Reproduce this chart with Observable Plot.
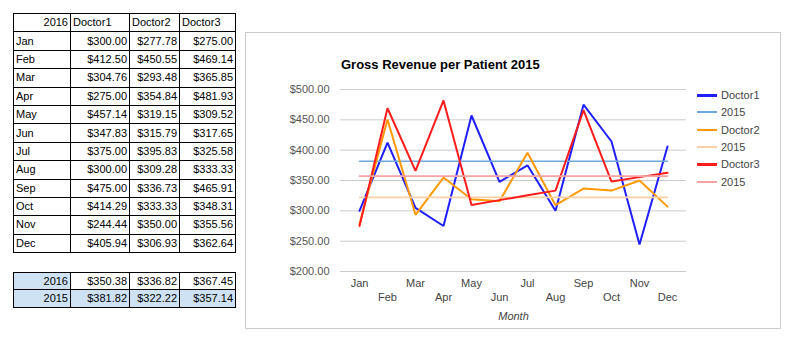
<!DOCTYPE html>
<html><head><meta charset="utf-8">
<script src="https://cdn.jsdelivr.net/npm/d3@7"></script>
<script src="https://cdn.jsdelivr.net/npm/@observablehq/plot@0.6"></script>
<style>
body{margin:0;background:#fff;font-family:"Liberation Sans",Arial,sans-serif;}
#page{position:relative;width:789px;height:339px;overflow:hidden;}
table{border-collapse:collapse;position:absolute;left:13px;font-size:11px;color:#000;table-layout:fixed;}
td{border:1px solid #000;padding:0 2px;line-height:1;white-space:nowrap;overflow:hidden;}
td.n{text-align:right;}
td.l{text-align:left;}
td.b{background:#cfe2f3;}
#main{top:13px;}
#main tr{height:18.4px;}
#summ{top:272px;}
#summ tr{height:17.4px;}
#box{position:absolute;left:245px;top:32px;width:534px;height:295px;border:1px solid #ccc;}
#title{position:absolute;left:95px;top:24px;font-weight:bold;font-size:13px;color:#000;}
#plot{position:absolute;left:0;top:0;}
#legend{position:absolute;left:451px;top:0;font-size:11px;color:#444;}
.li{position:absolute;left:0;height:14px;width:80px;}
.li span.sw{position:absolute;left:0;top:6px;width:20px;}
.li span.tx{position:absolute;left:24px;top:0;line-height:14px;}
</style>
</head><body>
<div id="page">
<table id="main"><colgroup><col style="width:57px"><col style="width:59px"><col style="width:50px"><col style="width:56px"></colgroup><tbody></tbody></table>
<table id="summ"><colgroup><col style="width:57px"><col style="width:59px"><col style="width:50px"><col style="width:56px"></colgroup><tbody></tbody></table>
<div id="box"><div id="plot"></div><div id="title"></div><div id="legend"></div></div>
</div>
<script>
const yearLabel = "2016";
const months = ["Jan","Feb","Mar","Apr","May","Jun","Jul","Aug","Sep","Oct","Nov","Dec"];
const doctors = ["Doctor1","Doctor2","Doctor3"];
const doctor1 = [300.00,412.50,304.76,275.00,457.14,347.83,375.00,300.00,475.00,414.29,244.44,405.94];
const doctor2 = [277.78,450.55,293.48,354.84,319.15,315.79,395.83,309.28,336.73,333.33,350.00,306.93];
const doctor3 = [275.00,469.14,365.85,481.93,309.52,317.65,325.58,333.33,465.91,348.31,355.56,362.64];
const avg2016 = [350.38,336.82,367.45];
const avg2015 = [381.82,322.22,357.14];
const summaryLabels = ["2016","2015"];
const yTicks = [200,250,300,350,400,450,500];
const chartTitle = "Gross Revenue per Patient 2015";
const xLabel = "Month";
const avgLabel = "2015";

const lineColors = ["#1f1fff","#ff9900","#ff1c1c"];
const avgColors = ["#6fa8dc","#fbd0a6","#f4a3a3"];
const series = [doctor1, doctor2, doctor3];
const money = v => "$" + v.toFixed(2);

// tables
const mainBody = document.querySelector("#main tbody");
let hdr = `<tr><td class="n">${yearLabel}</td>` + doctors.map(d => `<td class="l">${d}</td>`).join("") + "</tr>";
mainBody.innerHTML = hdr + months.map((m,i) =>
  `<tr><td class="l">${m}</td>` + series.map(s => `<td class="n">${money(s[i])}</td>`).join("") + "</tr>").join("");
const summBody = document.querySelector("#summ tbody");
summBody.innerHTML =
  `<tr><td class="n b">${summaryLabels[0]}</td>` + avg2016.map(v => `<td class="n">${money(v)}</td>`).join("") + "</tr>" +
  `<tr><td class="n b">${summaryLabels[1]}</td>` + avg2015.map(v => `<td class="n b">${money(v)}</td>`).join("") + "</tr>";

// chart
document.getElementById("title").textContent = chartTitle;
const marks = [
  Plot.gridY(yTicks, {stroke:"#cccccc", strokeOpacity:1}),
  Plot.axisY(yTicks, {tickSize:0, tickPadding:11, tickFormat: money, label:null, fill:"#555"}),
  Plot.axisX(months.filter((d,i)=>i%2===0), {tickSize:0, tickPadding:8, label:null, fill:"#444"}),
  Plot.axisX(months.filter((d,i)=>i%2===1), {tickSize:0, tickPadding:22, label:null, fill:"#444"}),
  Plot.text([xLabel], {text: d => d, frameAnchor:"bottom", dy:45, fontStyle:"italic", fill:"#444", lineAnchor:"middle"})
];
series.forEach((s, k) => {
  const rows = months.map((m,i) => ({month:m, value:s[i]}));
  marks.push(Plot.line(rows, {x:"month", y:"value", stroke:lineColors[k], strokeWidth:2, strokeLinejoin:"miter"}));
  const avgRows = [{month:months[0], value:avg2015[k]},{month:months[months.length-1], value:avg2015[k]}];
  marks.push(Plot.line(avgRows, {x:"month", y:"value", stroke:avgColors[k], strokeWidth:1.6}));
});
const chart = Plot.plot({
  width:534, height:295,
  marginLeft:94, marginRight:94, marginTop:56, marginBottom:57,
  style:{fontSize:"11px", fontFamily:"'Liberation Sans',Arial,sans-serif", color:"#444", background:"transparent"},
  x:{type:"point", domain:months, padding:0.5, axis:null},
  y:{domain:[200,500], axis:null},
  marks
});
document.getElementById("plot").appendChild(chart);

// legend
const legend = document.getElementById("legend");
const legendItems = [];
doctors.forEach((d,k) => {
  legendItems.push({label:d, color:lineColors[k], w:2.5});
  legendItems.push({label:avgLabel, color:avgColors[k], w:2});
});
legendItems.forEach((it,i) => {
  const el = document.createElement("div");
  el.className = "li";
  el.style.top = (55 + i*17.3) + "px";
  el.innerHTML = `<span class="sw" style="background:${it.color};height:${it.w}px"></span><span class="tx">${it.label}</span>`;
  legend.appendChild(el);
});
</script>
</body></html>
